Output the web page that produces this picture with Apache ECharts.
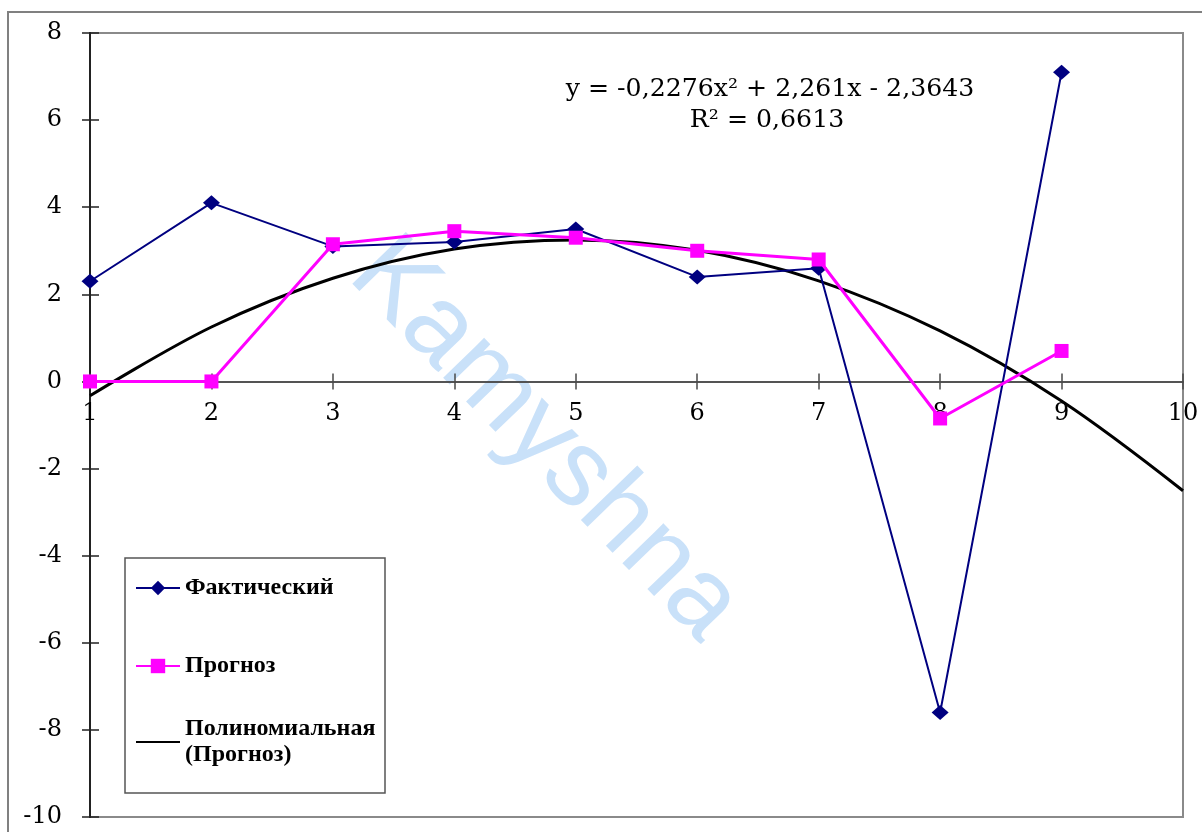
<!DOCTYPE html>
<html><head><meta charset="utf-8">
<script src="https://cdn.jsdelivr.net/npm/echarts@6/dist/echarts.min.js"></script>
<style>html,body{margin:0;padding:0;background:#fff}#c{width:1202px;height:832px}</style>
</head><body><div id="c"></div>
<script>
const xValues = [1, 2, 3, 4, 5, 6, 7, 8, 9];
const actual = [2.3, 4.1, 3.1, 3.2, 3.5, 2.4, 2.6, -7.6, 7.1];
const forecast = [0, 0, 3.15, 3.45, 3.3, 3.0, 2.8, -0.85, 0.7];
const trendX = [1, 2, 3, 4, 5, 6, 7, 8, 9, 10];
const trend = [-0.33, 1.25, 2.37, 3.04, 3.25, 3.01, 2.31, 1.16, -0.45, -2.51];
const seriesNames = ['Фактический', 'Прогноз', 'Полиномиальная (Прогноз)'];
const equationLines = ['y = -0,2276x\u00B2 + 2,261x - 2,3643', 'R\u00B2 = 0,6613'];
const watermarkText = 'Kamyshna';
const xRange = {min: 1, max: 10, interval: 1};
const yRange = {min: -10, max: 8, interval: 2};

const FONT = "'Liberation Serif', 'Times New Roman', serif";
const WIDE = "'DejaVu Serif', serif";
const W = 1202, H = 832;
const gridPos = {left: 90, right: 19, top: 33, bottom: 15};
const plotH = H - gridPos.top - gridPos.bottom;
// move the x axis from the bottom edge up to the y = 0 line
const zeroOffset = -plotH * (0 - yRange.min) / (yRange.max - yRange.min);

const chart = echarts.init(document.getElementById('c'), null, {renderer: 'canvas'});
const pairs = (xs, ys) => xs.map((x, i) => [x, ys[i]]);

const axisColor = '#4a4a4a';
const baseX = Object.assign({type: 'value', gridIndex: 0, position: 'bottom', offset: zeroOffset, splitLine: {show: false}}, xRange);
const baseY = Object.assign({type: 'value', gridIndex: 0, position: 'left', splitLine: {show: false}}, yRange);

chart.setOption({
  animation: false,
  backgroundColor: '#fff',
  grid: Object.assign({outerBoundsMode: 'none', containLabel: false,
    show: true, borderColor: '#8a8a8a', borderWidth: 2, backgroundColor: 'transparent'}, gridPos),
  xAxis: [
    Object.assign({}, baseX, {
      axisLine: {onZero: false, lineStyle: {color: axisColor, width: 1.5}},
      axisTick: {length: 8, lineStyle: {color: axisColor, width: 1.5}},
      axisLabel: {fontFamily: WIDE, fontSize: 24, color: '#000', margin: 20}
    }),
    Object.assign({}, baseX, {
      axisLine: {onZero: false, lineStyle: {color: axisColor, width: 1.5}},
      axisTick: {inside: true, length: 8, lineStyle: {color: axisColor, width: 1.5}},
      axisLabel: {show: false}
    })
  ],
  yAxis: [
    Object.assign({}, baseY, {
      axisLine: {show: true, onZero: false, lineStyle: {color: '#222', width: 2}},
      axisTick: {length: 8, lineStyle: {color: '#222', width: 1.5}},
      axisLabel: {fontFamily: WIDE, fontSize: 24, color: '#000', margin: 28}
    }),
    Object.assign({}, baseY, {
      axisLine: {show: true, onZero: false, lineStyle: {color: '#222', width: 2}},
      axisTick: {inside: true, length: 9, lineStyle: {color: '#222', width: 1.5}},
      axisLabel: {show: false}
    })
  ],
  legend: {
    orient: 'vertical',
    left: 135, top: 547,
    height: 400,
    padding: 0,
    itemGap: 24,
    itemWidth: 44, itemHeight: 18,
    borderWidth: 0,
    textStyle: {fontFamily: FONT, fontSize: 24, fontWeight: 'bold', color: '#000', lineHeight: 26},
    formatter: name => name.replace(' (', '\n('),
    data: [
      {name: seriesNames[0], textStyle: {padding: [28, 0, 28, 0]}},
      {name: seriesNames[1]},
      {name: seriesNames[2], textStyle: {padding: [26, 0, 0, 0]}, itemStyle: {opacity: 0}}
    ]
  },
  graphic: [
    {type: 'rect', z: 100, silent: true, shape: {x: 8, y: 12, width: 1220, height: 840},
     style: {fill: 'none', stroke: '#808080', lineWidth: 2}},
    {type: 'rect', z: 1, silent: true, shape: {x: 125, y: 558, width: 260, height: 235},
     style: {fill: '#fff', stroke: '#555', lineWidth: 1.5}},
    {type: 'text', z: 0, silent: true, x: 545, y: 440, rotation: -46 * Math.PI / 180,
     style: {text: watermarkText, fontFamily: "'Liberation Sans', Arial, sans-serif", fontSize: 108,
       fill: '#c9e1f9', align: 'center', verticalAlign: 'middle'}},
    {type: 'text', z: 50, silent: true, x: 770, y: 90, scaleX: 1.05,
     style: {text: equationLines[0], fontFamily: WIDE, fontSize: 24, fill: '#000', align: 'center', verticalAlign: 'middle'}},
    {type: 'text', z: 50, silent: true, x: 767, y: 121, scaleX: 1.05,
     style: {text: equationLines[1], fontFamily: WIDE, fontSize: 24, fill: '#000', align: 'center', verticalAlign: 'middle'}}
  ],
  series: [
    {name: seriesNames[0], type: 'line', xAxisIndex: 0, yAxisIndex: 0, data: pairs(xValues, actual),
     symbol: 'diamond', symbolSize: [17, 15], showAllSymbol: true,
     lineStyle: {color: '#000080', width: 2}, itemStyle: {color: '#000080'}, z: 3},
    {name: seriesNames[1], type: 'line', xAxisIndex: 0, yAxisIndex: 0, data: pairs(xValues, forecast),
     symbol: 'rect', symbolSize: 14, showAllSymbol: true,
     lineStyle: {color: '#ff00ff', width: 3}, itemStyle: {color: '#ff00ff'}, z: 4},
    {name: seriesNames[2], type: 'line', xAxisIndex: 0, yAxisIndex: 0, data: pairs(trendX, trend),
     symbol: 'none', smooth: 0.35,
     lineStyle: {color: '#000', width: 3}, itemStyle: {color: '#000'}, z: 2}
  ]
});
</script></body></html>
